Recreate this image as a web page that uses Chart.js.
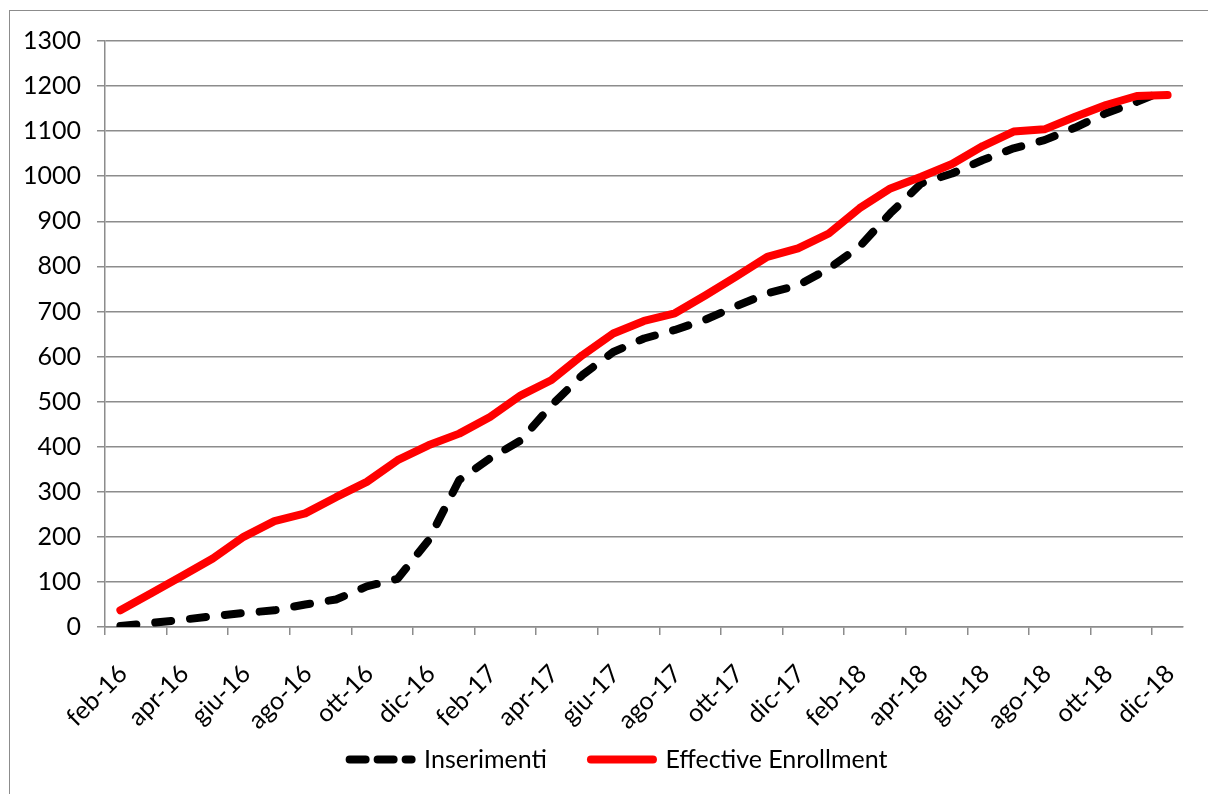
<!DOCTYPE html>
<html>
<head>
<meta charset="utf-8">
<script src="https://cdn.jsdelivr.net/npm/chart.js@4.4.0/dist/chart.umd.min.js"></script>
<style>
  html, body { margin: 0; padding: 0; background: #fff; overflow: hidden; }
  #wrap { position: relative; width: 1208px; height: 794px; }
  #frame { position: absolute; left: 9px; top: 10px; width: 1240px; height: 820px; border: 1px solid #8c8c8c; box-sizing: border-box; }
  canvas { position: absolute; left: 0; top: 0; }
</style>
</head>
<body>
<div id="wrap">
  <div id="frame"></div>
  <canvas id="chart" width="1208" height="794"></canvas>
</div>
<script>
// monthly points, feb-16 .. dic-18
const months = [
  'feb-16','mar-16','apr-16','mag-16','giu-16','lug-16','ago-16','set-16','ott-16','nov-16','dic-16',
  'gen-17','feb-17','mar-17','apr-17','mag-17','giu-17','lug-17','ago-17','set-17','ott-17','nov-17','dic-17',
  'gen-18','feb-18','mar-18','apr-18','mag-18','giu-18','lug-18','ago-18','set-18','ott-18','nov-18','dic-18'
];
// axis labels every other month
const tickLabels = months.filter((m, i) => i % 2 === 0);

const inserimenti = [2, 9, 16, 24, 31, 37, 50, 61, 90, 107, 192, 326, 374, 414, 492, 559, 610, 640, 659, 682,
  712, 740, 758, 795, 844, 918, 984, 1006, 1036, 1062, 1080, 1108, 1140, 1165, 1193];
const effective = [37, 75, 113, 152, 200, 235, 252, 288, 322, 370, 403, 429, 466, 514, 548, 603, 651, 679, 696, 736,
  778, 821, 840, 873, 929, 973, 999, 1027, 1067, 1099, 1104, 1132, 1158, 1178, 1180];

const yTicks = [0, 100, 200, 300, 400, 500, 600, 700, 800, 900, 1000, 1100, 1200, 1300];

// points sit in the middle of each month
const toPts = arr => arr.map((v, i) => ({ x: i + 0.5, y: v }));

const gridColor = '#8c8c8c';
const font = { family: 'Lato, "Liberation Sans", sans-serif', size: 25 };

// nudge the legend row a bit right, like the excel original
const legendShift = {
  id: 'legendShift',
  afterLayout(chart) { if (chart.legend) chart.legend.left += 54; }
};

const ctx = document.getElementById('chart').getContext('2d');
window.chartMain = new Chart(ctx, {
  type: 'line',
  data: {
    datasets: [
      { label: 'Inserimenti', data: toPts(inserimenti), borderColor: '#000', backgroundColor: '#000',
        borderWidth: 8, borderDash: [16, 19], borderCapStyle: 'round', borderJoinStyle: 'round',
        pointRadius: 0, tension: 0, fill: false, order: 1 },
      { label: 'Effective Enrollment', data: toPts(effective), borderColor: '#ff0000', backgroundColor: '#ff0000',
        borderWidth: 8, borderCapStyle: 'round', borderJoinStyle: 'round',
        pointRadius: 0, tension: 0, fill: false, order: 0 }
    ]
  },
  plugins: [legendShift],
  options: {
    responsive: false,
    animation: false,
    events: [],
    layout: { padding: { top: 41, right: 25, left: 0, bottom: 12 } },
    plugins: {
      tooltip: { enabled: false },
      legend: {
        position: 'bottom',
        labels: {
          usePointStyle: true,
          pointStyle: 'line',
          pointStyleWidth: 62,
          padding: 44,
          color: '#000',
          font: font,
          sort: (a, b) => a.datasetIndex - b.datasetIndex,
          generateLabels: chart => {
            const items = Chart.defaults.plugins.legend.labels.generateLabels(chart);
            items.forEach(it => {
              const ds = chart.data.datasets[it.datasetIndex];
              it.lineDash = ds.borderDash ? [16, 12] : [];
              it.lineWidth = 8;
              it.lineCap = 'round';
              it.strokeStyle = ds.borderColor;
            });
            return items;
          }
        }
      }
    },
    scales: {
      x: {
        type: 'linear',
        min: 0,
        max: months.length,
        afterBuildTicks: s => { s.ticks = tickLabels.map((_, k) => ({ value: k * 2 })); },
        afterFit: s => {
          s.height = 76;
          // rotated labels run into the legend band, don't clip them
          s._computeLabelArea = () => undefined;
        },
        ticks: {
          autoSkip: false,
          minRotation: 45,
          maxRotation: 45,
          padding: 24,
          labelOffset: 18,
          color: '#000',
          font: font,
          callback: v => months[v]
        },
        grid: { drawOnChartArea: false, color: gridColor, lineWidth: 1.5, tickLength: 8 },
        border: { color: gridColor, width: 1.5 }
      },
      y: {
        min: 0,
        max: 1300,
        afterBuildTicks: s => { s.ticks = yTicks.map(v => ({ value: v })); },
        afterFit: s => { s.width = 105; },
        ticks: { padding: 16, color: '#000', font: font, callback: v => String(v) },
        grid: { color: gridColor, lineWidth: 1.5, tickLength: 8 },
        border: { color: gridColor, width: 1.5 }
      }
    }
  }
});
</script>
</body>
</html>
